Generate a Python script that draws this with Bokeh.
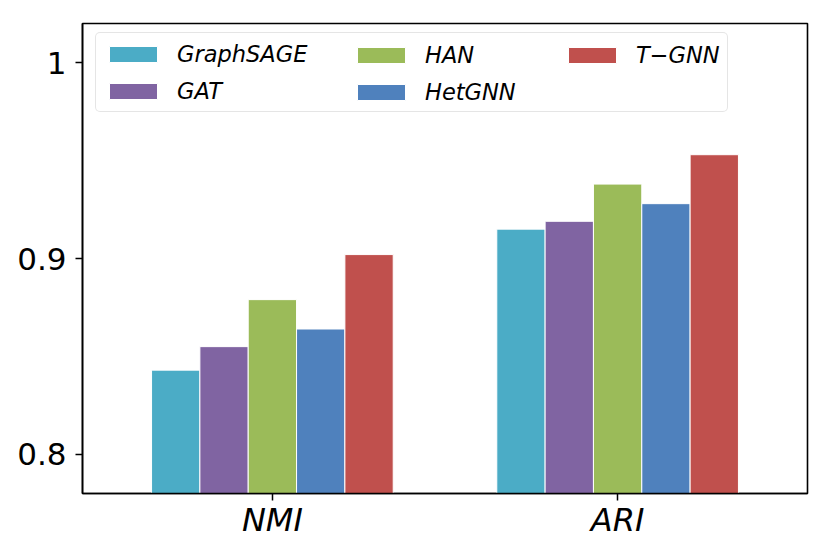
from bokeh.plotting import figure
from bokeh.models import Range1d, FixedTicker, Legend, LegendItem
from bokeh.embed import file_html
from bokeh.resources import INLINE

metrics = ["NMI", "ARI"]
methods = ["GraphSAGE", "GAT", "HAN", "HetGNN", "T\u2212GNN"]
graphsage = [0.843, 0.915]
gat = [0.855, 0.919]
han = [0.879, 0.938]
hetgnn = [0.864, 0.928]
tgnn = [0.902, 0.953]
series = [graphsage, gat, han, hetgnn, tgnn]
colors = ["#4BACC6", "#8064A2", "#9BBB59", "#4F81BD", "#C0504D"]
y_ticks = [0.8, 0.9, 1.0]
y_tick_labels = ["0.8", "0.9", "1"]

bar_w = 0.14

# layout constants (screen px)
W, H = 830, 551
B_LEFT, B_RIGHT, B_TOP, B_BOTTOM = 82, 23, 23, 58
FRAME_H = H - B_TOP - B_BOTTOM
LEG_TOP = 11          # legend top below frame top
LEG_PAD = 7
ROW_H = 27
ROW_SP = 10
GW, GH = 60, 20
STANDOFF = 14
COL_X = [13, 262, 473]   # legend column left offsets from frame left
BOX_W = 631

p = figure(width=W, height=H, output_backend="svg", toolbar_location=None,
           x_range=Range1d(-0.55, 1.55), y_range=Range1d(0.78, 1.02),
           min_border_left=B_LEFT, min_border_right=B_RIGHT,
           min_border_top=B_TOP, min_border_bottom=B_BOTTOM)
p.grid.visible = False
p.outline_line_color = "black"
p.outline_line_width = 1.6

items = []
for k, (name, vals, col) in enumerate(zip(methods, series, colors)):
    xs = [i + (k - 2) * bar_w for i in range(len(metrics))]
    r = p.vbar(x=xs, top=vals, bottom=0, width=bar_w, fill_color=col,
               line_color="white", line_width=1)
    items.append(LegendItem(label=name, renderers=[r]))

for ax in (p.xaxis[0], p.yaxis[0]):
    ax.axis_line_width = 1.6
    ax.major_tick_line_width = 1.5
    ax.major_tick_in = 0
    ax.major_tick_out = 7
    ax.minor_tick_line_color = None
    ax.major_label_text_font = "DejaVu Sans"
    ax.major_label_text_color = "black"

p.xaxis.ticker = FixedTicker(ticks=list(range(len(metrics))))
p.xaxis.major_label_overrides = {i: m for i, m in enumerate(metrics)}
p.xaxis.major_label_text_font_size = "32px"
p.xaxis.major_label_text_font_style = "italic"
p.xaxis.major_label_standoff = 0

p.yaxis.ticker = FixedTicker(ticks=y_ticks)
p.yaxis.major_label_overrides = {t: l for t, l in zip(y_ticks, y_tick_labels)}
p.yaxis.major_label_text_font_size = "31px"
p.yaxis.major_label_standoff = 9

columns = [items[0:2], items[2:4], items[4:5]]
for c, (col_items, x0) in enumerate(zip(columns, COL_X)):
    nrows = len(col_items)
    content_h = nrows * ROW_H + (nrows - 1) * ROW_SP
    if c == 0:
        kw = dict(border_line_color="#cccccc", border_line_width=1.5,
                  border_radius=5, background_fill_color="white",
                  background_fill_alpha=0.8,
                  label_width=BOX_W - 2 * LEG_PAD - GW - STANDOFF)
        vy = FRAME_H - LEG_TOP - (content_h + 2 * LEG_PAD)
        lx = x0
    else:
        # borderless legends get no padding, so place their content directly
        kw = dict(border_line_color=None, background_fill_color=None,
                  background_fill_alpha=0)
        vy = FRAME_H - LEG_TOP - LEG_PAD - content_h
        lx = x0 + LEG_PAD
    leg = Legend(items=col_items, location=(lx, vy), orientation="vertical",
                 margin=0, padding=LEG_PAD, spacing=ROW_SP,
                 glyph_width=GW, glyph_height=GH, label_height=ROW_H,
                 label_standoff=STANDOFF,
                 label_text_font="DejaVu Sans", label_text_font_style="italic",
                 label_text_font_size="22.5px", label_text_color="black", **kw)
    p.add_layout(leg, "center")

open("out.html", "w").write(file_html(p, INLINE))
